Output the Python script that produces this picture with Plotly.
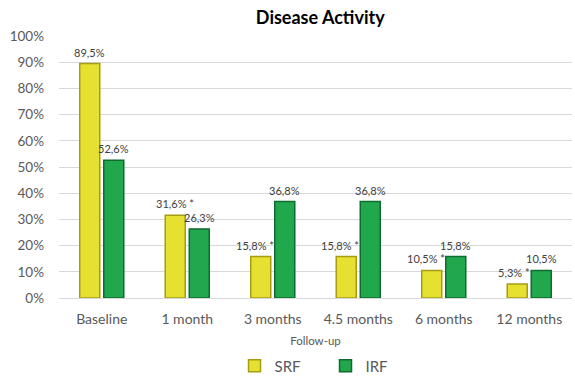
import plotly.graph_objects as go

categories = ["Baseline", "1 month", "3 months", "4.5 months", "6 months", "12 months"]
srf_values = [89.5, 31.6, 15.8, 15.8, 10.5, 5.3]
irf_values = [52.6, 26.3, 36.8, 36.8, 15.8, 10.5]
srf_significant = [False, True, True, True, True, True]
irf_significant = [False, False, False, False, False, False]
y_ticks = [0, 10, 20, 30, 40, 50, 60, 70, 80, 90, 100]


def fmt(v, star):
    s = f"{v:.1f}".replace(".", ",") + "%"
    return s + " *" if star else s


FONT = "Lato, Open Sans, sans-serif"
TXT = "#595959"
LABEL = "#404040"

W, H = 575, 376
M = dict(l=59, r=3, t=36, b=78)

# bar geometry in category units (each category spans 1.0)
BAR_W = 0.234
PAIR_GAP = 0.047
cat_px = (W - M["l"] - M["r"]) / len(categories)
srf_center_px = -(BAR_W / 2 + PAIR_GAP / 2) * cat_px
irf_center_px = (BAR_W / 2 + PAIR_GAP / 2) * cat_px
srf_right_px = -(PAIR_GAP / 2) * cat_px

fig = go.Figure()
fig.add_trace(go.Bar(
    name="SRF", x=categories, y=srf_values,
    offset=-(BAR_W + PAIR_GAP / 2), width=BAR_W,
    marker=dict(color="#e6e030", line=dict(color="#a49d14", width=1.5)),
))
fig.add_trace(go.Bar(
    name="IRF", x=categories, y=irf_values,
    offset=PAIR_GAP / 2, width=BAR_W,
    marker=dict(color="#22a84c", line=dict(color="#0f6b2e", width=1.5)),
))

# value labels above the bars; an SRF label is pushed left when the
# neighbouring IRF bar is taller so it does not run into it
annotations = []
for cat, s, i, s_star, i_star in zip(categories, srf_values, irf_values,
                                      srf_significant, irf_significant):
    if i > s:
        annotations.append(dict(x=cat, y=s, text=fmt(s, s_star), xanchor="right",
                                xshift=srf_right_px + 5, yanchor="bottom", yshift=3))
    else:
        annotations.append(dict(x=cat, y=s, text=fmt(s, s_star), xanchor="center",
                                xshift=srf_center_px, yanchor="bottom", yshift=3))
    annotations.append(dict(x=cat, y=i, text=fmt(i, i_star), xanchor="center",
                            xshift=irf_center_px, yanchor="bottom", yshift=3))
for a in annotations:
    a.update(showarrow=False, font=dict(size=11, color=LABEL, family=FONT))

fig.update_layout(
    width=W, height=H,
    margin=dict(**M, autoexpand=False),
    paper_bgcolor="white", plot_bgcolor="white",
    barmode="overlay",
    annotations=annotations,
    title=dict(text="<b>Disease Activity</b>", x=0.557, xanchor="center",
               y=0.952, yanchor="middle",
               font=dict(size=18, color="black", family=FONT)),
    font=dict(family=FONT, color=TXT),
    showlegend=True,
    legend=dict(orientation="h", x=0.5195, xanchor="center", y=-0.2595, yanchor="middle",
                font=dict(size=15, color=TXT), itemwidth=30,
                entrywidth=46, entrywidthmode="pixels",
                traceorder="normal"),
)
fig.update_xaxes(
    showgrid=False, showline=False, ticks="",
    tickfont=dict(size=14, color=TXT), ticklabelstandoff=11,
    title=dict(text="Follow-up", font=dict(size=11.5, color=TXT), standoff=10),
)
fig.update_yaxes(
    range=[0, 100], tickvals=y_ticks, ticktext=[f"{v}%" for v in y_ticks],
    showgrid=True, gridcolor="#d9d9d9", gridwidth=1,
    zeroline=True, zerolinecolor="#d9d9d9", zerolinewidth=1,
    tickfont=dict(size=13.5, color=TXT), ticks="", ticklabelstandoff=14,
)

fig.write_html("out.html")
